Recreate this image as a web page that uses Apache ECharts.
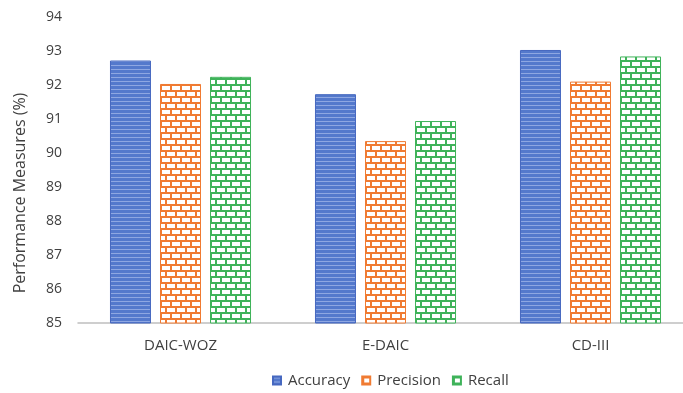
<!DOCTYPE html>
<html>
<head>
<meta charset="utf-8">
<script src="https://cdn.jsdelivr.net/npm/echarts@6/dist/echarts.min.js"></script>
<style>
  html, body { margin: 0; padding: 0; background: #fff; }
  #chart { width: 683px; height: 393px; }
</style>
</head>
<body>
<div id="chart"></div>
<script>
// Dataset names and measured scores (%)
const categories = ['DAIC-WOZ', 'E-DAIC', 'CD-III'];
const accuracy = [92.72, 91.73, 93.03];
const precision = [92.03, 90.35, 92.1];
const recall = [92.24, 90.94, 92.84];
const yTicks = [85, 86, 87, 88, 89, 90, 91, 92, 93, 94];

// Horizontal-stripe fill
function stripePattern(base, line) {
  const c = document.createElement('canvas');
  c.width = 4; c.height = 4;
  const g = c.getContext('2d');
  g.fillStyle = base; g.fillRect(0, 0, 4, 4);
  g.fillStyle = line; g.fillRect(0, 1, 4, 1);
  return c;
}

// Brick fill: coloured mortar lines on white
function brickPattern(color) {
  const w = 10, h = 12, row = 6;
  const c = document.createElement('canvas');
  c.width = w; c.height = h;
  const g = c.getContext('2d');
  g.fillStyle = '#ffffff'; g.fillRect(0, 0, w, h);
  g.fillStyle = color;
  g.fillRect(0, 0, w, 2);
  g.fillRect(0, row, w, 2);
  g.fillRect(0, 0, 2, row);
  g.fillRect(w / 2, row, 2, row);
  return c;
}

const chart = echarts.init(document.getElementById('chart'));
const font = '"Open Sans", sans-serif';

chart.setOption({
  animation: false,
  grid: { left: 78, width: 615, top: 17, bottom: 70, outerBoundsMode: 'none' },
  legend: {
    bottom: 0,
    left: 267,
    itemWidth: 8,
    itemHeight: 8,
    itemGap: 11,
    icon: 'rect',
    textStyle: { fontFamily: font, fontSize: 15, color: '#404040', padding: [0, 0, 0, 2] },
    data: ['Accuracy', 'Precision', 'Recall']
  },
  xAxis: {
    type: 'category',
    data: categories,
    axisLine: { lineStyle: { color: '#bfbfbf', width: 1.5 } },
    axisTick: { show: false },
    axisLabel: { fontFamily: font, fontSize: 15, color: '#404040', margin: 15 }
  },
  yAxis: {
    type: 'value',
    min: yTicks[0],
    max: yTicks[yTicks.length - 1],
    interval: 1,
    name: 'Performance Measures (%)',
    nameLocation: 'middle',
    nameGap: 50,
    nameTextStyle: { fontFamily: font, fontSize: 16, color: '#404040', padding: [0, 46, 0, 0] },
    axisLine: { show: false },
    axisTick: { show: false },
    splitLine: { show: false },
    axisLabel: { fontFamily: font, fontSize: 14, color: '#404040', margin: 16 }
  },
  series: [
    {
      name: 'Accuracy', type: 'bar', data: accuracy,
      barWidth: 41, barGap: '22%',
      itemStyle: {
        color: { image: stripePattern('#5479cc', '#8ea7e2'), repeat: 'repeat' },
        borderColor: '#4668c0', borderWidth: 1
      }
    },
    {
      name: 'Precision', type: 'bar', data: precision,
      barWidth: 41,
      itemStyle: {
        color: { image: brickPattern('#f07b32'), repeat: 'repeat' },
        borderColor: '#f07b32', borderWidth: 1
      }
    },
    {
      name: 'Recall', type: 'bar', data: recall,
      barWidth: 41,
      itemStyle: {
        color: { image: brickPattern('#3fb35a'), repeat: 'repeat' },
        borderColor: '#3fb35a', borderWidth: 1
      }
    }
  ]
});
</script>
</body>
</html>
